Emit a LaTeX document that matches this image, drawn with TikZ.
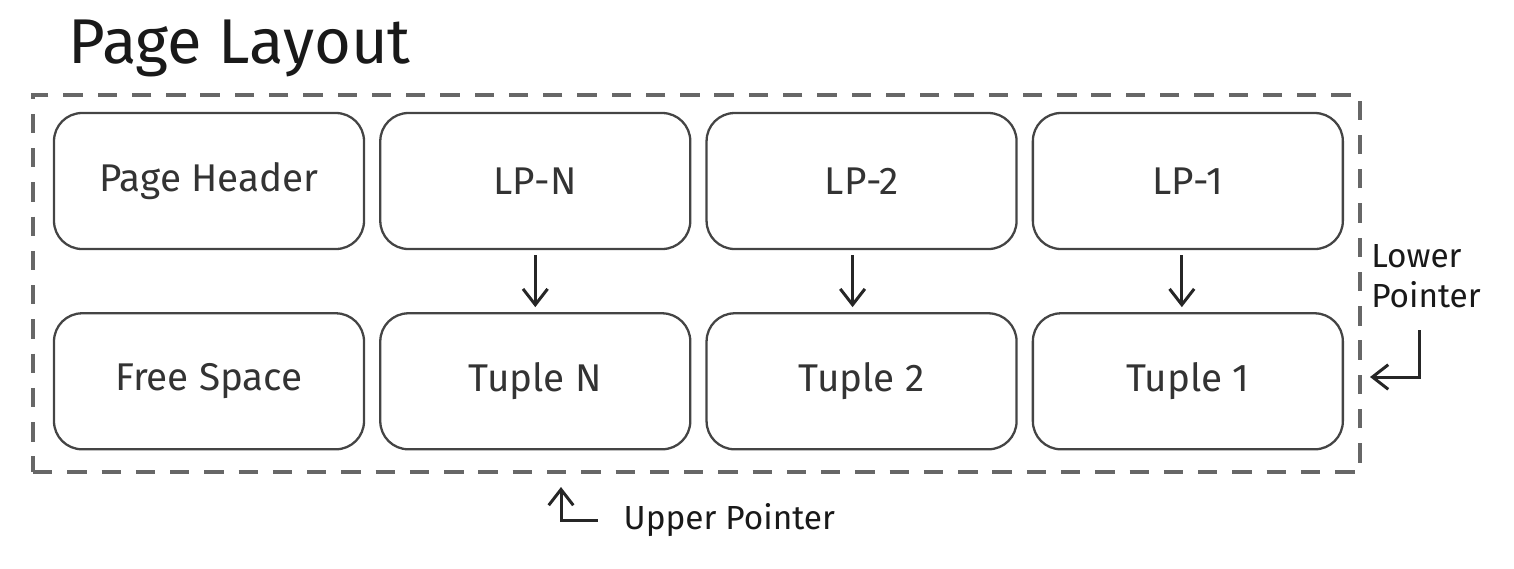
\documentclass[tikz,border=0pt]{standalone}
\usepackage{fontspec}
\setmainfont{Fira Sans}
\usepackage{xcolor}
\usetikzlibrary{positioning,arrows.meta}

\definecolor{inkgray}{HTML}{444444}
\definecolor{dashgray}{HTML}{676767}

\begin{document}
\begin{tikzpicture}[
        font = \fontsize{22}{26}\selectfont,
        ptr/.style = {draw=black!85, line width=1.7pt, -{Straight Barb[length=9pt,width=14pt]}},
    ]
    \tikzstyle{slot} = [draw=inkgray, line width=1.3pt, rounded corners=16pt,
        minimum width=6.2cm, minimum height=2.72cm, inner sep=0pt, text=black!80];
    \useasboundingbox (0,0) rectangle (30.28,-11.36);

    \node [anchor=base west, font=\fontsize{36}{40}\selectfont, text=black!90] (title) at (1.25,-1.26) {Page Layout};

    \node [draw=dashgray, line width=2pt, dash pattern=on 11pt off 8.5pt,
        minimum width=26.54cm, minimum height=7.54cm] (page) at (13.93,-5.67) {};

    \node [slot] (hdr) at (4.18,-3.62) {Page Header};
    \node [slot, right = 0.28cm of hdr] (lpn) {LP-N};
    \node [slot, right = 0.28cm of lpn] (lp2) {LP-2};
    \node [slot, right = 0.28cm of lp2] (lp1) {LP-1};
    \node [slot, below = 1.24cm of hdr] (free) {Free Space};
    \node [slot, below = 1.24cm of lpn] (tn) {Tuple N};
    \node [slot, below = 1.24cm of lp2] (t2) {Tuple 2};
    \node [slot, below = 1.24cm of lp1] (t1) {Tuple 1};

    \draw [ptr] ([yshift=-0.1cm]lpn.south) -- ([yshift=0.1cm]tn.north);
    \draw [ptr] ([xshift=-0.18cm, yshift=-0.1cm]lp2.south) -- ([xshift=-0.18cm, yshift=0.1cm]t2.north);
    \draw [ptr] ([xshift=-0.12cm, yshift=-0.1cm]lp1.south) -- ([xshift=-0.12cm, yshift=0.1cm]t1.north);

    % pointers into the page
    \node [align=left, font=\fontsize{19}{23}\selectfont, text=black!90] (lowerlbl) at (28.52,-5.52) {Lower\\Pointer};
    \coordinate (lowtip) at (27.4,-7.54);
    \draw [ptr] (28.38,-6.6) |- (lowtip);

    \node [anchor=west, font=\fontsize{19}{23}\selectfont, text=black!90] (upperlbl) at (12.35,-10.4) {Upper Pointer};
    \coordinate (uptip) at (11.22,-9.74);
    \draw [ptr] ([xshift=-0.4cm]upperlbl.west) -| (uptip);
\end{tikzpicture}
\end{document}
